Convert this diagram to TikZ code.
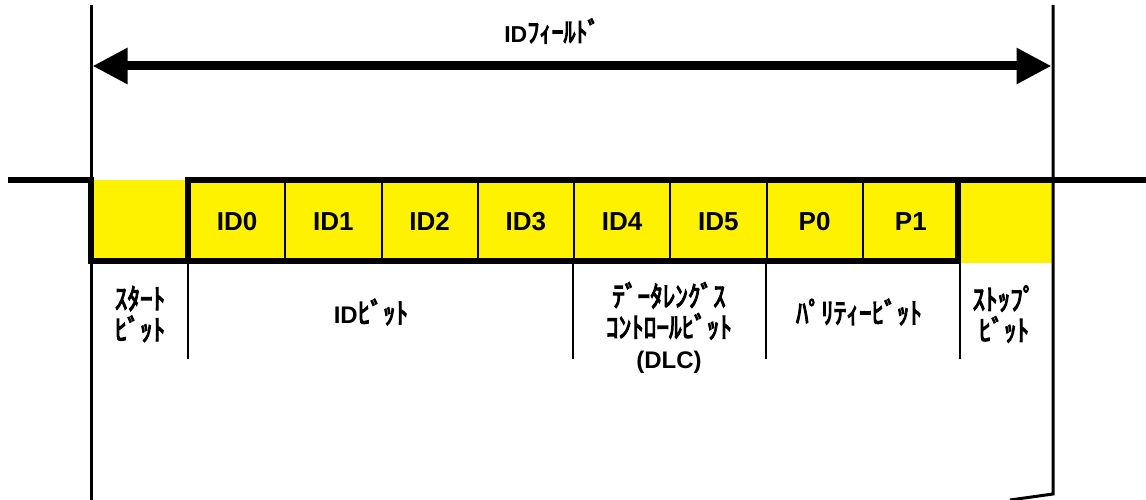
\documentclass[tikz,border=0pt]{standalone}
\usepackage{fontspec}
\setmainfont{Liberation Sans}
\newfontfamily\jp[AutoFakeBold=4]{Noto Sans CJK JP}
\newcommand\kana[1]{\scalebox{1.05}[1.2]{\jp #1}}
\usetikzlibrary{arrows.meta}
\begin{document}
\begin{tikzpicture}[x=1pt,y=-1pt,
  cellbox/.style={fill=yellow, minimum width=96.25pt, minimum height=81pt, inner sep=0pt, anchor=north west, font=\fontsize{26}{30}\selectfont\bfseries},
  idcell/.style={cellbox, draw=black, line width=2pt},
  wave/.style={line width=6pt, line join=miter},
  guide/.style={line width=3pt},
  divider/.style={line width=2pt},
  lbl/.style={align=center, font=\fontsize{24}{31}\selectfont\bfseries, inner sep=0pt},
  bigarrow/.style={line width=9pt, {Triangle[length=35pt,width=34pt]}-{Triangle[length=35pt,width=34pt]}}]
\useasboundingbox (0,0) rectangle (1146,500);

% yellow cells
\node[cellbox] (start) at (91,180) {};
\node[idcell] (c0) at (188,180) {ID0};
\node[idcell] (c1) at (284.25,180) {ID1};
\node[idcell] (c2) at (380.5,180) {ID2};
\node[idcell] (c3) at (476.75,180) {ID3};
\node[idcell] (c4) at (573,180) {ID4};
\node[idcell] (c5) at (669.25,180) {ID5};
\node[idcell] (c6) at (765.5,180) {P0};
\node[idcell] (c7) at (861.75,180) {P1};
\node[cellbox, minimum width=95pt, minimum height=83pt] (stop) at (958,180) {};

% long guide lines
\coordinate (lt) at (91,5);
\coordinate (lb) at (91,500);
\coordinate (rt) at (1053,5);
\coordinate (rb) at (1053,494);
\coordinate (rc) at (1010,500);
\draw[guide] (lt) -- (lb);
\draw[guide] (rt) -- (rb) -- (rc);

% waveform
\coordinate (w0) at (8,180);
\coordinate (w1) at (91,180);
\coordinate (w2) at (91,261);
\coordinate (w3) at (958,261);
\coordinate (w4) at (958,180);
\coordinate (w5) at (188,261);
\coordinate (w6) at (188,180);
\coordinate (w7) at (1146,180);
\draw[wave] (w0) -- (w1) -- (w2) -- (w3) -- (w4);
\draw[wave] (w5) -- (w6) -- (w7);

% lower dividers
\draw[divider] (c0.south west) -- ++(0,96);
\draw[divider] (c4.south west) -- ++(0,96);
\draw[divider] (c6.south west) -- ++(0,96);
\draw[divider] (c7.south east) -- ++(0,96);

% ID field arrow
\node[font=\bfseries\fontsize{23}{26}\selectfont, inner sep=0pt] (field) at (552,31) {ID\kana{ﾌｨｰﾙﾄﾞ}};
\coordinate (al) at (92.5,66);
\coordinate (ar) at (1051.5,66);
\draw[bigarrow] (al) -- (ar);

% labels
\node[lbl] (lstart) at (140,314) {\kana{ｽﾀｰﾄ}\\\kana{ﾋﾞｯﾄ}};
\node[lbl] (lid) at (371,312) {ID\kana{ﾋﾞｯﾄ}};
\node[lbl] (ldlc) at (669,328) {\kana{ﾃﾞｰﾀﾚﾝｸﾞｽ}\\\kana{ｺﾝﾄﾛｰﾙﾋﾞｯﾄ}\\(DLC)};
\node[lbl] (lpar) at (859,312) {\kana{ﾊﾟﾘﾃｨｰﾋﾞｯﾄ}};
\node[lbl] (lstop) at (1004,314) {\kana{ｽﾄｯﾌﾟ}\\\kana{ﾋﾞｯﾄ}};
\end{tikzpicture}
\end{document}
